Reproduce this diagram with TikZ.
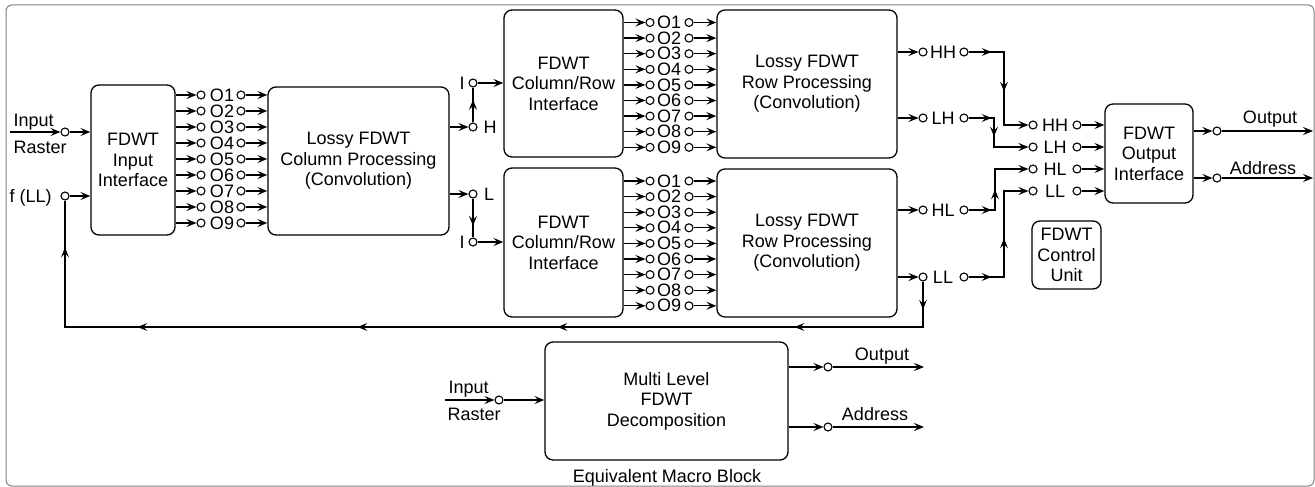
\documentclass[tikz,border=0pt]{standalone}
\usepackage{fontspec}
\setmainfont{Liberation Sans}
\usetikzlibrary{arrows.meta,decorations.markings}

\begin{document}
\begin{tikzpicture}
  [x=1pt,y=-1pt,line width=1.3pt,
   >={Stealth[length=10pt,width=8pt,inset=4pt]},
   every node/.style={font=\fontsize{18}{20.5}\selectfont},
   blk/.style={draw,rounded corners=8pt,align=center,inner sep=0pt},
   term/.style={circle,draw,fill=white,inner sep=0pt,minimum size=8pt,line width=1.1pt},
   lbl/.style={inner sep=0pt},
   tip at/.style={postaction={decorate,decoration={markings,
       mark=at position #1 with {\arrow{>}}}}}]

  \useasboundingbox (0,0) rectangle (1315,487);
  \draw [gray,line width=1pt,rounded corners=6pt] (6,5) rectangle (1314,486);

  % blocks
  \node [blk,minimum width=84pt,minimum height=150pt] (in) at (133,160) {FDWT\\Input\\Interface};
  \node [blk,minimum width=181pt,minimum height=148pt] (cp) at (358.5,161) {Lossy FDWT\\Column Processing\\(Convolution)};
  \node [blk,minimum width=119pt,minimum height=147pt] (cr1) at (563.5,83.5) {FDWT\\Column/Row\\Interface};
  \node [blk,minimum width=119pt,minimum height=149pt] (cr2) at (563.5,242.5) {FDWT\\Column/Row\\Interface};
  \node [blk,minimum width=180pt,minimum height=148pt] (rp1) at (807,84) {Lossy FDWT\\Row Processing\\(Convolution)};
  \node [blk,minimum width=180pt,minimum height=148pt] (rp2) at (807,243) {Lossy FDWT\\Row Processing\\(Convolution)};
  \node [blk,minimum width=88pt,minimum height=99pt] (oi) at (1149,153.5) {FDWT\\Output\\Interface};
  \node [blk,minimum width=69pt,minimum height=68pt] (cu) at (1066.5,255) {FDWT\\Control\\Unit};
  \node [blk,minimum width=243pt,minimum height=118pt] (mb) at (666.5,401) {Multi Level\\FDWT\\Decomposition};
  \node [lbl,anchor=base] (eq) at (667,482) {Equivalent Macro Block};

  % raster input and fed back LL
  \coordinate (inp) at (10,132);
  \node [term] (ra) at (65,132) {};
  \node [lbl,anchor=base west] at (13,126) {Input};
  \node [lbl,anchor=base west] at (13,153) {Raster};
  \draw [->] (inp) -- (ra);
  \draw [->] (ra) -- (in.west |- ra);
  \node [term] (fa) at (65,196) {};
  \node [lbl,anchor=base west] at (9,202) {f (LL)};
  \draw [->] (fa) -- (in.west |- fa);

  % input interface taps
  \foreach \k in {1,...,9} {
    \node [term] (ia\k) at (201,{95+16*(\k-1)}) {};
    \node [lbl] (io\k) at (222,{95+16*(\k-1)}) {O\k};
    \node [term] (ib\k) at (241,{95+16*(\k-1)}) {};
    \draw [->] (in.east |- ia\k) -- (ia\k);
    \draw [->] (ib\k) -- (cp.west |- ib\k);
  }

  % H and L bands
  \node [term] (h) at (473,127) {};
  \node [lbl] at (490,127) {H};
  \node [term] (i1) at (473,83) {};
  \node [lbl] at (462,83) {I};
  \node [term] (l) at (473,194) {};
  \node [lbl] at (489,194) {L};
  \node [term] (i2) at (473,242) {};
  \node [lbl] at (462,242) {I};
  \draw [->] (cp.east |- h) -- (h);
  \draw [tip at=0.65] (h) -- (i1);
  \draw [->] (i1) -- (cr1.west |- i1);
  \draw [->] (cp.east |- l) -- (l);
  \draw [tip at=0.7] (l) -- (i2);
  \draw [->] (i2) -- (cr2.west |- i2);

  % column/row interface taps
  \foreach \b/\yo in {1/22.5,2/181} {
    \foreach \k in {1,...,9} {
      \node [term] (c\b a\k) at (650,{\yo+15.6*(\k-1)}) {};
      \node [lbl] (c\b o\k) at (669,{\yo+15.6*(\k-1)}) {O\k};
      \node [term] (c\b b\k) at (689,{\yo+15.6*(\k-1)}) {};
      \draw [->] (cr\b.east |- c\b a\k) -- (c\b a\k);
      \draw [->] (c\b b\k) -- (rp\b.west |- c\b b\k);
    }
  }

  % sub-bands
  \foreach \n/\y/\s in {HH/52/1,LH/118/1,HL/210/2,LL/277/2} {
    \node [term] (\n-a) at (923,\y) {};
    \node [lbl] (\n) at (943,\y) {\n};
    \node [term] (\n-b) at (964,\y) {};
    \draw [->] (rp\s.east |- \n-a) -- (\n-a);
  }
  \foreach \n/\y in {HH/125,LH/147,HL/169,LL/191} {
    \node [term] (o\n-a) at (1033,\y) {};
    \node [lbl] (o\n) at (1055,\y) {\n};
    \node [term] (o\n-b) at (1077,\y) {};
    \draw [->] (o\n-b) -- (oi.west |- o\n-b);
  }
  \draw [->,tip at=23pt,tip at=75pt] (HH-b) -- ++(40,0) |- (oHH-a);
  \draw [->,tip at=23pt,tip at=44pt] (LH-b) -- ++(30,0) |- (oLH-a);
  \draw [->,tip at=23pt,tip at=47pt] (HL-b) -- ++(31,0) |- (oHL-a);
  \draw [->,tip at=23pt,tip at=74pt] (LL-b) -- ++(40,0) |- (oLL-a);

  % LL fed back to the input
  \draw [tip at=28pt,tip at=174pt,tip at=411pt,tip at=611pt,tip at=831pt,tip at=983pt]
    (LL-a) -- ++(0,50) -| (fa);

  % outputs
  \node [term] (oo) at (1217,131) {};
  \node [term] (oa) at (1217,178) {};
  \coordinate (oo-end) at (1313,131);
  \coordinate (oa-end) at (1313,178);
  \draw [->] (oi.east |- oo) -- (oo);
  \draw [->] (oo) -- (oo-end);
  \draw [->] (oi.east |- oa) -- (oa);
  \draw [->] (oa) -- (oa-end);
  \node [lbl,anchor=base] at (1270,124) {Output};
  \node [lbl,anchor=base] at (1263,174) {Address};

  % equivalent macro block
  \coordinate (mi) at (445,400);
  \node [term] (mt) at (499,400) {};
  \node [lbl,anchor=base west] at (448,393) {Input};
  \node [lbl,anchor=base west] at (447,420) {Raster};
  \draw [->] (mi) -- (mt);
  \draw [->] (mt) -- (mb.west |- mt);
  \node [term] (mo) at (828,367) {};
  \node [term] (ma) at (828,427) {};
  \coordinate (mo-end) at (924,367);
  \coordinate (ma-end) at (924,427);
  \draw [->] (mb.east |- mo) -- (mo);
  \draw [->] (mo) -- (mo-end);
  \draw [->] (mb.east |- ma) -- (ma);
  \draw [->] (ma) -- (ma-end);
  \node [lbl,anchor=base] at (882,360) {Output};
  \node [lbl,anchor=base] at (875,420) {Address};
\end{tikzpicture}
\end{document}
